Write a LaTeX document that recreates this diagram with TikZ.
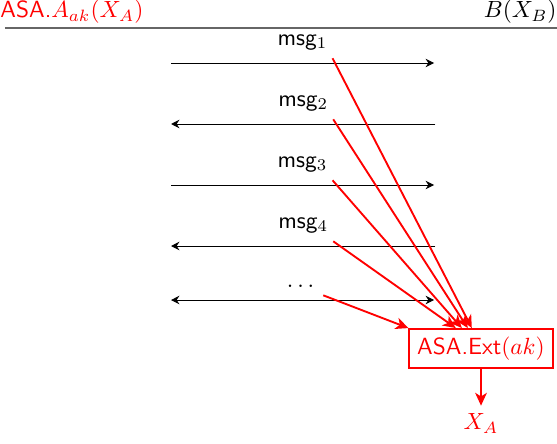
\documentclass[tikz,border=0pt]{standalone}
\usepackage{amsmath,amssymb}
\usepackage{tikz}
\usetikzlibrary{arrows.meta, positioning, calc}

\begin{document}
\begin{tikzpicture}[
        msg/.style={-{Stealth[length=3.6pt, width=3.6pt, inset=1.2pt]}},
        both/.style={{Stealth[length=3.6pt, width=3.6pt, inset=1.2pt]}-{Stealth[length=3.6pt, width=3.6pt, inset=1.2pt]}},
        lbl/.style={above=2pt, inner xsep=2pt},
        ext/.style={-{Stealth[length=5.5pt, width=5pt, inset=1.6pt]}, red, thick},
        extbox/.style={draw=red, thick, text=red, font=\sffamily},
        hdr/.style={inner sep=0pt}
    ]
        \useasboundingbox (0,0) rectangle (8.355,-6.645);

        % header
        \node[hdr, anchor=base west, text=red] (a) at (0,-0.27) {\textsf{ASA.}$A_{ak}(X_A)$};
        \node[hdr, anchor=base east] (b) at (8.355,-0.27) {$B(X_B)$};
        \draw[black!60, line width=0.6pt] (0.075,-0.42) -- (8.355,-0.42);

        % messages
        \coordinate (l1) at (2.565,-0.945); \coordinate (r1) at (6.51,-0.945);
        \coordinate (l2) at (2.565,-1.86);  \coordinate (r2) at (6.53,-1.86);
        \coordinate (l3) at (2.565,-2.775); \coordinate (r3) at (6.51,-2.775);
        \coordinate (l4) at (2.565,-3.69);  \coordinate (r4) at (6.53,-3.69);
        \coordinate (l5) at (2.565,-4.5);   \coordinate (r5) at (6.51,-4.5);

        \draw[msg] (l1) -- node[lbl] (m1) {\textsf{msg}$_1$} (r1);
        \draw[msg] (r2) -- node[lbl] (m2) {\textsf{msg}$_2$} (l2);
        \draw[msg] (l3) -- node[lbl] (m3) {\textsf{msg}$_3$} (r3);
        \draw[msg] (r4) -- node[lbl] (m4) {\textsf{msg}$_4$} (l4);
        \draw[both] (l5) -- node[lbl] (m5) {$\dots$} (r5);

        % extractor
        \node[extbox] (x) at (7.215,-5.228) {ASA.Ext$(ak)$};
        \node[text=red, below=0.55cm of x] (xa) {$X_A$};

        \draw[ext] (m1.south east) -- ([xshift=0.95cm]x.north west);
        \draw[ext] (m2.south east) -- ([xshift=0.89cm]x.north west);
        \draw[ext] (m3.south east) -- ([xshift=0.80cm]x.north west);
        \draw[ext] (m4.south east) -- ([xshift=0.71cm]x.north west);
        \draw[ext] (m5.south east) -- (x.north west);
        \draw[ext] (x) -- (xa);
    \end{tikzpicture}
\end{document}
